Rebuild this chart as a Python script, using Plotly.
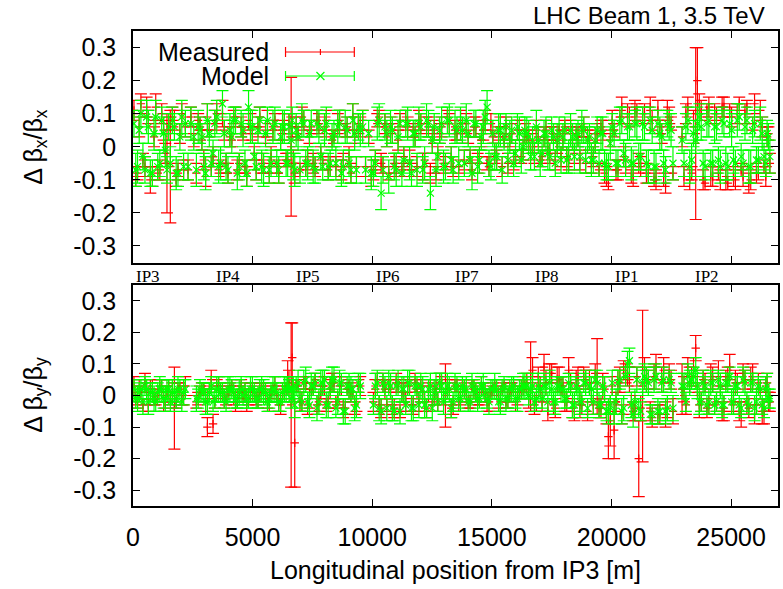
import plotly.graph_objects as go
from plotly.subplots import make_subplots

# ---------------- data ----------------
# BPM longitudinal positions [m], first set
s = [40, 190, 330, 500, 640, 810, 950, 1120, 1280, 1420,
     1560, 1730, 1880, 2040, 2190, 2650, 2800, 2960, 3110, 3270,
     3420, 3580, 3740, 3890, 4050, 4210, 4360, 4520, 4680, 4830,
     4990, 5150, 5300, 5460, 5620, 5770, 5930, 6090, 6250, 6400,
     6520, 6610, 6700, 6820, 6980, 7140, 7300, 7450, 7610, 7770,
     7930, 8080, 8240, 8400, 8560, 8710, 8870, 9030, 9190, 9340,
     9500, 10050, 10210, 10370, 10530, 10690, 10840, 11000, 11160, 11320,
     11480, 11640, 11790, 11950, 12110, 12270, 12430, 12590, 12740, 12900,
     13060, 13220, 13380, 13540, 13690, 13850, 14010, 14170, 14330, 14480,
     14640, 14800, 14960, 15120, 15280, 15430, 15590, 15750, 15910, 16070,
     16230, 16380, 16540, 16620, 16700, 16860, 17020, 17180, 17340, 17500,
     17650, 17810, 17970, 18130, 18290, 18450, 18600, 18760, 18920, 19080,
     19240, 19400, 19560, 19710, 19870, 19950, 20030, 20190, 20350, 20510,
     20670, 20830, 20980, 21140, 21300, 21460, 21620, 21780, 21940, 22100,
     22260, 22410, 22570, 22950, 23110, 23270, 23430, 23520, 23590, 23750,
     23910, 24070, 24230, 24390, 24550, 24700, 24860, 25020, 25180, 25340,
     25500, 25660, 25820, 25980, 26140, 26300, 26450, 26560]
# second set of BPM positions [m]
s_b = [115, 260, 415, 570, 725, 880, 1035, 1200, 1350, 1490,
       1645, 1805, 1960, 2115, 2725, 2880, 3035, 3190, 3345, 3500,
       3660, 3815, 3970, 4130, 4285, 4440, 4600, 4755, 4910, 5070,
       5225, 5380, 5540, 5695, 5850, 6010, 6170, 6325, 6465, 6655,
       6760, 6900, 7060, 7220, 7375, 7530, 7690, 7850, 8005, 8160,
       8320, 8480, 8635, 8790, 8950, 9110, 9265, 9420, 10130, 10290,
       10450, 10610, 10765, 10920, 11080, 11240, 11400, 11560, 11715, 11870,
       12030, 12190, 12350, 12510, 12665, 12820, 12980, 13140, 13300, 13460,
       13615, 13770, 13930, 14090, 14250, 14405, 14560, 14720, 14880, 15040,
       15200, 15355, 15510, 15670, 15830, 15990, 16150, 16305, 16460, 16780,
       16940, 17100, 17260, 17420, 17575, 17730, 17890, 18050, 18210, 18370,
       18525, 18680, 18840, 19000, 19160, 19320, 19480, 19635, 19790, 20110,
       20270, 20430, 20590, 20750, 20905, 21060, 21220, 21380, 21540, 21700,
       21860, 22020, 22180, 22335, 22490, 23030, 23190, 23350, 23670, 23830,
       23990, 24150, 24310, 24470, 24625, 24780, 24940, 25100, 25260, 25420,
       25580, 25740, 25900, 26060, 26220, 26375, 26505, 26620]
# horizontal-plane-only BPMs [m]
s_h = [2300, 2420, 2540, 9600, 9720, 9850, 9960]

# Delta beta_x / beta_x  (units of 0.01)
bx_meas = [11, -8, 13, -6, 9, -9, 12, -7, 5, -5,
           -6, 8, -7, 10, 6, -8, 7, -4, 9, -6,
           8, -7, 10, -5, 3, 9, -7, 6, -6, 8,
           4, -7, 9, -6, 7, -3, 8, -8, 5, -4,
           7, 0, -5, 6, -7, 8, -4, 6, -6, 7,
           -5, 8, -6, 3, 7, -7, 5, -3, 9, -6,
           6, -7, 8, -5, 7, -8, 4, -6, 8, -3,
           6, -7, 3, 8, -6, 7, -8, 5, -2, 6,
           -5, 7, -6, 4, 8, -4, 3, -7, 6, -3,
           5, -5, 7, -2, 4, -6, 6, 2, -4, 5,
           -3, 4, 2, -2, 1, 5, -4, 3, -1, 4,
           -4, 5, 2, -3, 6, -2, 3, 5, -5, 2,
           -3, 4, 6, -8, -10, 2, 8, -7, 9, -3,
           10, -9, 11, -5, 10, -8, 12, -10, 11, 4,
           -11, 9, -8, 3, 10, -10, 6, 4, 20, 11,
           -11, 12, -9, 10, -10, 12, -11, 9, -10, 13,
           -9, 12, -10, 13, -8, 6, -9, 4]
bx_meas_err = [3, 2, 3, 3, 2, 3, 4, 3, 3, 15,
               17, 3, 2, 3, 3, 3, 2, 3, 4, 3,
               3, 2, 4, 3, 3, 2, 3, 3, 2, 3,
               2, 3, 3, 2, 4, 3, 2, 3, 3, 2,
               3, 21, 4, 3, 2, 3, 3, 2, 3, 3,
               2, 3, 3, 2, 3, 3, 2, 3, 4, 3,
               3, 3, 2, 3, 3, 2, 3, 3, 2, 3,
               3, 2, 3, 3, 4, 2, 3, 3, 2, 3,
               2, 3, 3, 2, 3, 3, 2, 3, 3, 2,
               3, 2, 3, 3, 2, 3, 3, 2, 3, 3,
               2, 3, 3, 2, 3, 3, 2, 3, 3, 2,
               3, 2, 3, 3, 2, 3, 3, 2, 3, 3,
               3, 3, 2, 3, 3, 2, 3, 3, 2, 3,
               3, 2, 3, 3, 2, 3, 3, 2, 3, 3,
               3, 3, 2, 3, 3, 3, 5, 26, 10, 3,
               2, 3, 3, 2, 3, 3, 2, 3, 3, 2,
               3, 2, 3, 3, 2, 3, 3, 2]
bx_model = [7, -6, 10, -7, 6, -8, 9, -5, 4, -7,
            -5, 6, -8, 9, 7, -7, 5, -6, 8, -5,
            7, -6, 13, -6, 5, 8, -8, 7, -5, 12,
            6, -6, 8, -7, 8, -5, 7, -7, 6, -5,
            6, 2, -6, 5, -7, 7, -5, 7, -7, 6,
            -6, 7, -5, 4, 6, -8, 6, -5, 8, -7,
            5, -8, 7, -14, 6, -9, 5, -7, 7, -4,
            7, -8, 4, 7, -7, 8, -14, 6, -3, 7,
            -6, 8, -7, 5, 7, -5, 4, -8, 7, -4,
            6, 12, -6, -3, 5, -7, 6, 3, -5, 6,
            -4, 5, 3, -3, 2, 6, -5, 4, -2, 5,
            -5, 4, 3, -4, 5, -3, 4, 6, -4, 3,
            -4, 5, 4, -5, -6, 1, 6, -5, 7, -2,
            6, -5, 7, -3, 7, -5, 8, -6, 7, 3,
            -7, 6, -5, 2, 6, -6, 4, 2, 7, 6,
            -6, 8, -5, 6, -6, 7, -6, 5, -5, 9,
            -5, 8, -6, 7, -4, 4, -5, 3]
bx_model_err = [4, 5, 4, 4, 5, 4, 5, 4, 5, 4,
                5, 4, 4, 5, 4, 5, 4, 4, 5, 4,
                4, 5, 4, 4, 5, 4, 5, 4, 4, 5,
                5, 4, 4, 5, 4, 4, 5, 4, 5, 4,
                4, 5, 4, 5, 4, 4, 5, 4, 4, 5,
                4, 5, 4, 4, 5, 4, 5, 4, 5, 4,
                5, 4, 5, 5, 4, 5, 4, 5, 4, 4,
                5, 4, 4, 5, 4, 5, 5, 4, 4, 5,
                4, 5, 4, 4, 5, 4, 4, 5, 4, 4,
                5, 5, 4, 4, 5, 4, 4, 5, 4, 4,
                4, 4, 5, 4, 4, 5, 4, 4, 5, 4,
                4, 5, 4, 4, 5, 4, 4, 5, 4, 4,
                4, 4, 5, 4, 4, 5, 4, 4, 5, 4,
                4, 5, 4, 4, 5, 4, 4, 5, 4, 4,
                4, 4, 5, 4, 4, 5, 4, 4, 5, 4,
                4, 5, 4, 4, 5, 4, 4, 5, 4, 4,
                4, 4, 5, 4, 4, 5, 4, 4]
bx_meas_b = [-9, 6, -4, 12, -10, 3, -8, 10, -2, 7,
             9, -10, 4, -7, 8, 2, -9, 5, -3, 10,
             -6, 5, -8, 2, 9, -5, 4, -9, 7, -2,
             6, -5, 3, -8, 5, -6, 2, 7, -4, 6,
             -8, 4, 9, -6, 3, -5, 8, -2, 6, -7,
             2, -6, 8, -4, 6, -8, 3, 7, -4, 9,
             -6, 3, 7, -5, 2, -7, 8, -4, 5, -6,
             7, -4, 6, 1, -8, 4, -5, 9, -3, 5,
             -6, 4, 7, -3, 6, -5, 2, 8, -6, 3,
             -4, 6, 2, -5, 4, -3, 5, -1, 3, -2,
             3, -3, 5, -2, 4, 1, -3, 6, -4, 2,
             4, -4, 6, 3, -5, 1, -7, 5, -9, 5,
             -7, 12, -6, 9, -9, 11, -6, 10, -9, 8,
             -10, 6, -9, 11, 7, -9, 12, -8, 13, -10,
             11, -9, 10, -8, 12, -10, 11, -9, 10, -7,
             10, -11, 7, -8, 11, -6, 3, -5]
bx_meas_b_err = [3, 3, 2, 3, 4, 3, 2, 3, 3, 2,
                 3, 2, 3, 3, 2, 3, 3, 2, 3, 3,
                 2, 3, 3, 2, 3, 3, 2, 3, 3, 2,
                 3, 3, 2, 3, 3, 2, 3, 3, 2, 3,
                 3, 2, 3, 3, 2, 3, 3, 2, 3, 3,
                 2, 3, 3, 2, 3, 3, 2, 3, 3, 2,
                 3, 3, 2, 3, 3, 2, 3, 3, 2, 3,
                 3, 2, 3, 3, 2, 3, 3, 2, 3, 3,
                 2, 3, 3, 2, 3, 3, 2, 3, 3, 2,
                 3, 3, 2, 3, 3, 2, 3, 3, 2, 3,
                 3, 2, 3, 3, 2, 3, 3, 2, 3, 3,
                 2, 3, 3, 2, 3, 3, 2, 3, 3, 2,
                 3, 3, 2, 3, 3, 2, 3, 3, 2, 3,
                 3, 2, 3, 3, 2, 3, 3, 2, 3, 3,
                 2, 3, 3, 2, 3, 3, 2, 3, 3, 2,
                 3, 3, 2, 3, 3, 2, 3, 3]
bx_model_b = [-7, 5, -3, 9, -8, 4, -6, 8, -1, 6,
              8, -8, 3, -6, 6, 3, -8, 4, -2, 9,
              -5, 4, -7, 3, 8, -6, 5, -8, 6, -3,
              5, -6, 4, -7, 6, -5, 3, 6, -5, 8,
              -7, 3, 8, -5, 4, -6, 7, -3, 5, -6,
              3, -5, 7, -6, 5, -7, 4, 6, -5, 8,
              -7, 4, 6, -6, 3, -8, 7, -5, 4, -7,
              6, -5, 7, 2, -7, 5, -6, 8, -4, 6,
              -5, 5, 8, -4, 7, -6, 3, 9, -5, 4,
              -3, 5, 3, -4, 5, -2, 4, 0, 4, -3,
              2, -2, 4, -3, 3, 2, -4, 5, -3, 3,
              3, -3, 5, 2, -4, 2, -5, 4, -6, 4,
              -5, 8, -4, 6, -5, 7, -3, 6, -6, 5,
              -6, 4, -5, 7, 5, -5, 8, -4, 9, -5,
              7, -5, 6, -4, 8, -5, 7, -4, 8, -3,
              6, -6, 5, -4, 7, -3, 4, -3]
bx_model_b_err = [5, 4, 4, 5, 4, 5, 4, 4, 5, 4,
                  4, 5, 4, 4, 5, 4, 5, 4, 4, 5,
                  5, 4, 4, 5, 4, 4, 5, 4, 5, 4,
                  4, 5, 4, 4, 5, 4, 4, 5, 4, 4,
                  5, 4, 5, 4, 4, 5, 4, 4, 5, 4,
                  4, 5, 4, 5, 4, 4, 5, 4, 4, 5,
                  4, 4, 5, 4, 5, 4, 4, 5, 4, 5,
                  4, 5, 4, 4, 5, 4, 5, 4, 4, 5,
                  5, 4, 5, 4, 4, 5, 4, 5, 4, 4,
                  4, 5, 4, 5, 4, 4, 5, 4, 5, 4,
                  4, 4, 5, 4, 4, 5, 4, 4, 5, 4,
                  4, 5, 4, 4, 5, 4, 4, 5, 4, 4,
                  4, 4, 5, 4, 4, 5, 4, 4, 5, 4,
                  4, 5, 4, 4, 5, 4, 4, 5, 4, 4,
                  4, 4, 5, 4, 4, 5, 4, 4, 5, 4,
                  4, 5, 4, 4, 5, 4, 4, 5]
bx_meas_h = [-7, 9, 2, 8, -6, 3, -9]
bx_meas_h_err = [3, 3, 2, 3, 3, 2, 3]
bx_model_h = [-6, 7, 3, 6, -7, 4, -8]
bx_model_h_err = [4, 5, 4, 5, 4, 4, 5]

# Delta beta_y / beta_y  (units of 0.01)
by_meas = [3, -2, 1, 4, -3, 2, -1, 3, -2, 1,
           -1, -4, 2, -1, 3, -2, 1, 2, -10, 5,
           -2, 3, 1, -1, 2, 0, -2, 3, 1, -1,
           2, -1, 1, 2, -2, 1, 3, -3, 1, 2,
           4, -3, 1, 3, -2, 4, -3, 2, 5, -2,
           3, -3, 2, 4, -1, 3, -4, 2, 1, -2,
           3, -2, 5, -4, 2, 3, -3, 4, -5, 1,
           3, -3, 4, -2, 1, -4, 3, 0, -2, 4,
           0, 2, -3, 3, -1, 2, -2, 3, 1, -1,
           2, -2, 1, 3, -1, 2, -2, 1, 3, -1,
           2, 3, -1, 6, 8, -2, 3, 9, -5, 7,
           -4, 5, 3, -2, 4, -5, 6, -3, 5, 4,
           -3, 6, -4, 2, -13, -8, 3, -2, 5, 8,
           6, -3, -4, -20, 3, 5, -5, 6, -6, 5,
           -6, 7, -5, 2, -3, 4, 8, 15, 3, -2,
           4, -3, 5, -2, 3, -4, 6, -2, 4, -5,
           7, -3, 5, -6, 4, -5, 3, -2]
by_meas_err = [3, 2, 2, 3, 2, 3, 2, 2, 3, 2,
               2, 13, 2, 2, 3, 2, 2, 2, 3, 3,
               2, 3, 2, 2, 2, 3, 2, 2, 3, 2,
               2, 2, 3, 2, 2, 2, 3, 2, 2, 2,
               4, 26, 3, 2, 3, 2, 3, 2, 2, 3,
               3, 2, 3, 3, 2, 3, 2, 3, 2, 3,
               3, 3, 2, 3, 3, 2, 3, 3, 2, 3,
               3, 2, 3, 3, 2, 3, 2, 3, 3, 2,
               10, 2, 3, 2, 2, 3, 2, 2, 3, 2,
               2, 3, 2, 2, 3, 2, 2, 3, 2, 2,
               3, 2, 3, 11, 4, 3, 3, 4, 3, 3,
               3, 4, 3, 3, 3, 3, 3, 3, 3, 4,
               3, 12, 3, 4, 7, 8, 3, 3, 4, 3,
               3, 3, 4, 12, 24, 4, 3, 4, 3, 4,
               4, 3, 4, 8, 3, 3, 4, 4, 3, 3,
               3, 3, 4, 3, 3, 4, 3, 3, 4, 3,
               3, 3, 4, 3, 3, 4, 3, 3]
by_model = [2, -1, 2, 3, -2, 1, -2, 2, -1, 2,
            -2, 1, 2, -2, 2, -1, 2, 1, -2, 3,
            -1, 2, 1, -2, 2, 1, -1, 2, 1, -1,
            2, -1, 2, 1, -2, 1, 2, -2, 1, 2,
            2, -1, 2, 3, -1, 4, -2, 3, 4, -2,
            4, -3, 3, 5, -2, 4, -5, 3, 2, -3,
            3, -3, 4, -5, 3, 4, -4, 3, -5, 2,
            4, -4, 3, -3, 2, -4, 3, 1, -2, 3,
            1, 2, -2, 3, -1, 2, -2, 3, 1, -1,
            3, -1, 2, 3, -2, 2, -1, 2, 3, -1,
            2, 3, 0, 2, 3, -1, 2, 3, -2, 2,
            -2, 3, 2, -1, 3, -3, 2, -2, 4, 3,
            -2, 4, -3, 2, -5, -3, 4, -2, 5, -4,
            10, -3, -2, -4, 4, 5, -6, 5, -5, 4,
            -5, 5, -4, 3, -2, 4, 6, 8, 3, -2,
            3, -2, 4, -2, 3, -3, 4, -2, 3, -3,
            5, -2, 4, -4, 3, -3, 2, -1]
by_model_err = [3, 4, 3, 3, 4, 3, 3, 4, 3, 3,
                3, 3, 4, 3, 3, 4, 3, 3, 4, 3,
                3, 4, 3, 3, 4, 3, 3, 4, 3, 3,
                4, 3, 3, 4, 3, 3, 4, 3, 3, 4,
                3, 3, 4, 3, 3, 4, 3, 4, 3, 4,
                4, 4, 3, 4, 4, 3, 4, 4, 3, 4,
                4, 3, 4, 4, 3, 4, 4, 3, 4, 4,
                4, 4, 3, 4, 4, 3, 4, 4, 3, 4,
                3, 4, 3, 3, 4, 3, 3, 4, 3, 3,
                4, 3, 3, 4, 3, 3, 4, 3, 3, 4,
                3, 4, 3, 3, 4, 3, 3, 4, 3, 3,
                4, 3, 4, 3, 3, 4, 3, 3, 4, 3,
                4, 4, 3, 4, 4, 3, 4, 4, 3, 4,
                4, 4, 4, 3, 4, 4, 3, 4, 4, 3,
                4, 3, 4, 4, 3, 4, 3, 4, 4, 3,
                3, 4, 3, 3, 4, 3, 3, 4, 3, 3,
                4, 3, 3, 4, 3, 3, 4, 3]
by_meas_b = [-1, 2, -3, 1, 2, -1, 0, 2, -2, 3,
             1, -2, 2, 0, -1, 2, -2, 1, -9, 3,
             2, -1, 1, 3, -2, 1, 0, -2, 2, 1,
             -1, 2, 1, -2, 2, 0, -3, 1, 6, 12,
             -15, 3, -2, 4, -1, 2, -3, 1, 3, -2,
             4, -2, 3, -4, 2, 1, -3, 3, 2, -3,
             4, -3, 2, -4, 3, 1, -2, 3, -3, 2,
             3, -2, 1, -3, 2, 4, -1, 2, -4, 3,
             -2, 3, 1, -2, 2, -1, 3, 0, -2, 2,
             1, -2, 3, -1, 2, -2, 1, 3, 4, -3,
             6, -2, 4, 7, -3, 5, 3, -2, 8, -4,
             5, -3, 6, -5, 2, 7, -4, 3, -6, -11,
             4, -6, 7, 5, -5, 6, -4, 8, 5, -7,
             9, -6, 8, -4, 5, 2, 9, 6, -3, 5,
             -4, 6, -3, 7, -5, 5, 9, -3, 4, -6,
             5, -4, 6, -3, 2, -5, 4, -2]
by_meas_b_err = [2, 3, 2, 2, 3, 2, 2, 3, 2, 2,
                 3, 2, 2, 3, 2, 2, 3, 2, 3, 2,
                 2, 3, 2, 2, 3, 2, 2, 3, 2, 2,
                 3, 2, 2, 3, 2, 2, 3, 2, 5, 11,
                 14, 2, 3, 2, 3, 2, 3, 2, 3, 2,
                 3, 2, 3, 3, 2, 3, 3, 2, 3, 3,
                 3, 2, 3, 3, 2, 3, 3, 2, 3, 3,
                 2, 3, 3, 2, 3, 3, 2, 3, 3, 2,
                 3, 2, 3, 2, 3, 2, 3, 2, 3, 2,
                 2, 3, 2, 3, 2, 3, 2, 3, 3, 3,
                 3, 3, 4, 3, 3, 4, 3, 3, 4, 3,
                 3, 4, 3, 3, 4, 3, 3, 4, 3, 9,
                 4, 3, 3, 4, 3, 3, 4, 4, 3, 3,
                 4, 3, 4, 3, 3, 4, 3, 3, 4, 3,
                 3, 4, 3, 4, 3, 3, 4, 3, 3, 4,
                 3, 3, 4, 3, 3, 4, 3, 3]
by_model_b = [-1, 1, -2, 2, 1, -1, 1, 2, -1, 2,
              1, -1, 2, 1, -1, 1, -2, 1, -2, 2,
              1, -1, 2, 2, -1, 1, 0, -1, 2, 1,
              -1, 2, 1, -1, 2, 1, -2, 2, 3, 2,
              -3, 4, -2, 5, -3, 3, -4, 4, 5, -3,
              5, -4, 4, -5, 3, 2, -4, 4, 3, -4,
              4, -4, 3, -5, 4, 2, -3, 4, -4, 3,
              3, -3, 2, -4, 3, 4, -2, 3, -4, 3,
              -1, 3, 2, -2, 2, -1, 3, 1, -2, 2,
              2, -2, 3, -1, 2, -1, 2, 3, 3, -2,
              3, -1, 3, 4, -2, 3, 2, -1, 4, -3,
              3, -2, 4, -4, 2, 5, -3, 3, -5, -5,
              4, -5, 6, 11, -6, 5, -5, 6, 4, -6,
              6, -5, 5, -4, 4, 3, 6, 5, -2, 4,
              -3, 4, -3, 5, -3, 4, 6, -2, 3, -4,
              4, -3, 4, -2, 2, -4, 3, -1]
by_model_b_err = [3, 3, 4, 3, 3, 4, 3, 3, 4, 3,
                  4, 3, 3, 4, 3, 3, 4, 3, 3, 4,
                  3, 3, 4, 3, 3, 4, 3, 3, 4, 3,
                  3, 4, 3, 3, 4, 3, 3, 4, 3, 3,
                  4, 4, 3, 4, 4, 3, 4, 4, 3, 4,
                  4, 3, 4, 4, 3, 4, 4, 3, 4, 4,
                  3, 4, 4, 3, 4, 4, 3, 4, 4, 3,
                  4, 4, 3, 4, 4, 3, 4, 4, 3, 4,
                  3, 3, 4, 3, 3, 4, 3, 3, 4, 3,
                  3, 4, 3, 3, 4, 3, 3, 4, 3, 3,
                  4, 3, 3, 4, 3, 3, 4, 3, 3, 4,
                  3, 4, 3, 3, 4, 3, 4, 3, 3, 4,
                  4, 4, 3, 4, 4, 4, 3, 4, 4, 3,
                  4, 3, 4, 4, 3, 4, 4, 3, 4, 4,
                  3, 4, 3, 3, 4, 3, 3, 4, 3, 3,
                  4, 3, 3, 4, 3, 3, 4, 3]

ip_labels = ["IP3", "IP4", "IP5", "IP6", "IP7", "IP8", "IP1", "IP2"]
ip_pos = [620, 3960, 7300, 10640, 13980, 17320, 20660, 24000]

yticks = [-0.3, -0.2, -0.1, 0, 0.1, 0.2, 0.3]
yticktext = ["-0.3", "-0.2", "-0.1", "0", "0.1", "0.2", "0.3"]
xticks = [0, 5000, 10000, 15000, 20000, 25000]
xticktext = ["0", "5000", "10000", "15000", "20000", "25000"]

for name, a, b in [("bx", bx_meas, s), ("bxe", bx_meas_err, s), ("bxm", bx_model, s),
                   ("bxme", bx_model_err, s), ("by", by_meas, s), ("bye", by_meas_err, s),
                   ("bym", by_model, s), ("byme", by_model_err, s),
                   ("bxb", bx_meas_b, s_b), ("bxbe", bx_meas_b_err, s_b),
                   ("bxmb", bx_model_b, s_b), ("bxmbe", bx_model_b_err, s_b),
                   ("byb", by_meas_b, s_b), ("bybe", by_meas_b_err, s_b),
                   ("bymb", by_model_b, s_b), ("bymbe", by_model_b_err, s_b),
                   ("bxh", bx_meas_h, s_h), ("bxhe", bx_meas_h_err, s_h),
                   ("bxmh", bx_model_h, s_h), ("bxmhe", bx_model_h_err, s_h)]:
    if len(a) != len(b):
        raise SystemExit(f"length mismatch {name}: {len(a)} vs {len(b)}")

RED = "#ff0000"
GREEN = "#00ff00"
FONT = "Liberation Sans"

def pct(a):
    return [v / 100 for v in a]

panels = [
    (s + s_b + s_h,
     bx_meas + bx_meas_b + bx_meas_h, bx_meas_err + bx_meas_b_err + bx_meas_h_err,
     bx_model + bx_model_b + bx_model_h, bx_model_err + bx_model_b_err + bx_model_h_err),
    (s + s_b,
     by_meas + by_meas_b, by_meas_err + by_meas_b_err,
     by_model + by_model_b, by_model_err + by_model_b_err),
]

fig = make_subplots(rows=2, cols=1, shared_xaxes=False, vertical_spacing=0.047)

for row, (xs, m, me, mo, moe) in enumerate(panels, start=1):
    fig.add_trace(go.Scatter(
        x=xs, y=pct(m), mode="markers", name="Measured", showlegend=False,
        marker=dict(symbol="cross-thin", size=6, color=RED, line=dict(color=RED, width=1.2)),
        error_y=dict(type="data", array=pct(me), visible=True, color=RED, thickness=1.2, width=6),
    ), row=row, col=1)
    fig.add_trace(go.Scatter(
        x=xs, y=pct(mo), mode="markers", name="Model", showlegend=False,
        marker=dict(symbol="x-thin", size=7, color=GREEN, line=dict(color=GREEN, width=1.2)),
        error_y=dict(type="data", array=pct(moe), visible=True, color=GREEN, thickness=1.2, width=6),
    ), row=row, col=1)

axis_common = dict(showline=True, linecolor="black", linewidth=1.5, mirror="allticks",
                   ticks="inside", ticklen=7, tickcolor="black", showgrid=False, zeroline=False,
                   tickfont=dict(family=FONT, size=25, color="black"))

fig.update_xaxes(range=[0, 26960], tickvals=xticks, ticktext=xticktext, **axis_common)
fig.update_xaxes(showticklabels=False, row=1, col=1)
fig.update_xaxes(ticklabelstandoff=8, row=2, col=1)
fig.update_yaxes(range=[-0.35, 0.35], tickvals=yticks, ticktext=yticktext,
                 ticklabelstandoff=10, **axis_common)

fig.update_layout(
    width=783, height=589,
    margin=dict(l=133, r=3, t=31, b=83),
    plot_bgcolor="white", paper_bgcolor="white",
    font=dict(family=FONT, size=25, color="black"),
    hovermode=False,
)
fig.layout.yaxis.domain = [0.5126, 1.0]
fig.layout.yaxis2.domain = [0.0, 0.4653]

ann = []
ann.append(dict(text="LHC Beam 1, 3.5 TeV", xref="paper", yref="paper", x=0.983, y=1.033,
                xanchor="right", yanchor="middle", showarrow=False,
                font=dict(family=FONT, size=24)))
ann.append(dict(text="Longitudinal position from IP3 [m]", xref="paper", yref="paper",
                x=0.5, y=-0.135, xanchor="center", yanchor="middle", showarrow=False,
                font=dict(family=FONT, size=25)))
ann.append(dict(text="Δ β<sub>x</sub>/β<sub>x</sub>", xref="paper", yref="paper",
                x=-0.152, y=0.756, textangle=-90, xanchor="center", yanchor="middle",
                showarrow=False, font=dict(family=FONT, size=25)))
ann.append(dict(text="Δ β<sub>y</sub>/β<sub>y</sub>", xref="paper", yref="paper",
                x=-0.152, y=0.234, textangle=-90, xanchor="center", yanchor="middle",
                showarrow=False, font=dict(family=FONT, size=25)))
for lab, p in zip(ip_labels, ip_pos):
    ann.append(dict(text=lab, xref="x2", yref="paper", x=p, y=0.484,
                    xanchor="center", yanchor="middle", showarrow=False,
                    font=dict(family="Liberation Serif", size=17)))
ann.append(dict(text="Measured", xref="paper", yref="paper", x=0.2133, y=0.956,
                xanchor="right", yanchor="middle", showarrow=False, font=dict(family=FONT, size=25)))
ann.append(dict(text="Model", xref="paper", yref="paper", x=0.2133, y=0.905,
                xanchor="right", yanchor="middle", showarrow=False, font=dict(family=FONT, size=25)))
fig.update_layout(annotations=ann)

def px2x(p):
    return (p - 133) / 647
def py2y(p):
    return (506 - p) / 475

shapes = []
for yy, col, sym in [(52, RED, "plus"), (76, GREEN, "x")]:
    y0 = py2y(yy)
    shapes.append(dict(type="line", xref="paper", yref="paper", x0=px2x(286), x1=px2x(355),
                       y0=y0, y1=y0, line=dict(color=col, width=1.2)))
    for xe in (286, 355):
        shapes.append(dict(type="line", xref="paper", yref="paper", x0=px2x(xe), x1=px2x(xe),
                           y0=py2y(yy - 5), y1=py2y(yy + 5), line=dict(color=col, width=1.2)))
    cx = 321
    if sym == "plus":
        shapes.append(dict(type="line", xref="paper", yref="paper", x0=px2x(cx), x1=px2x(cx),
                           y0=py2y(yy - 3), y1=py2y(yy + 3), line=dict(color=col, width=1.2)))
    else:
        shapes.append(dict(type="line", xref="paper", yref="paper", x0=px2x(cx - 4), x1=px2x(cx + 4),
                           y0=py2y(yy - 4), y1=py2y(yy + 4), line=dict(color=col, width=1.2)))
        shapes.append(dict(type="line", xref="paper", yref="paper", x0=px2x(cx - 4), x1=px2x(cx + 4),
                           y0=py2y(yy + 4), y1=py2y(yy - 4), line=dict(color=col, width=1.2)))
fig.update_layout(shapes=shapes)

# remove the browser's default 8px body margin so the figure sits at the page origin
fig.write_html("out.html", config={"displayModeBar": False},
               post_script="document.body.style.margin='0';document.body.style.overflow='hidden';")
